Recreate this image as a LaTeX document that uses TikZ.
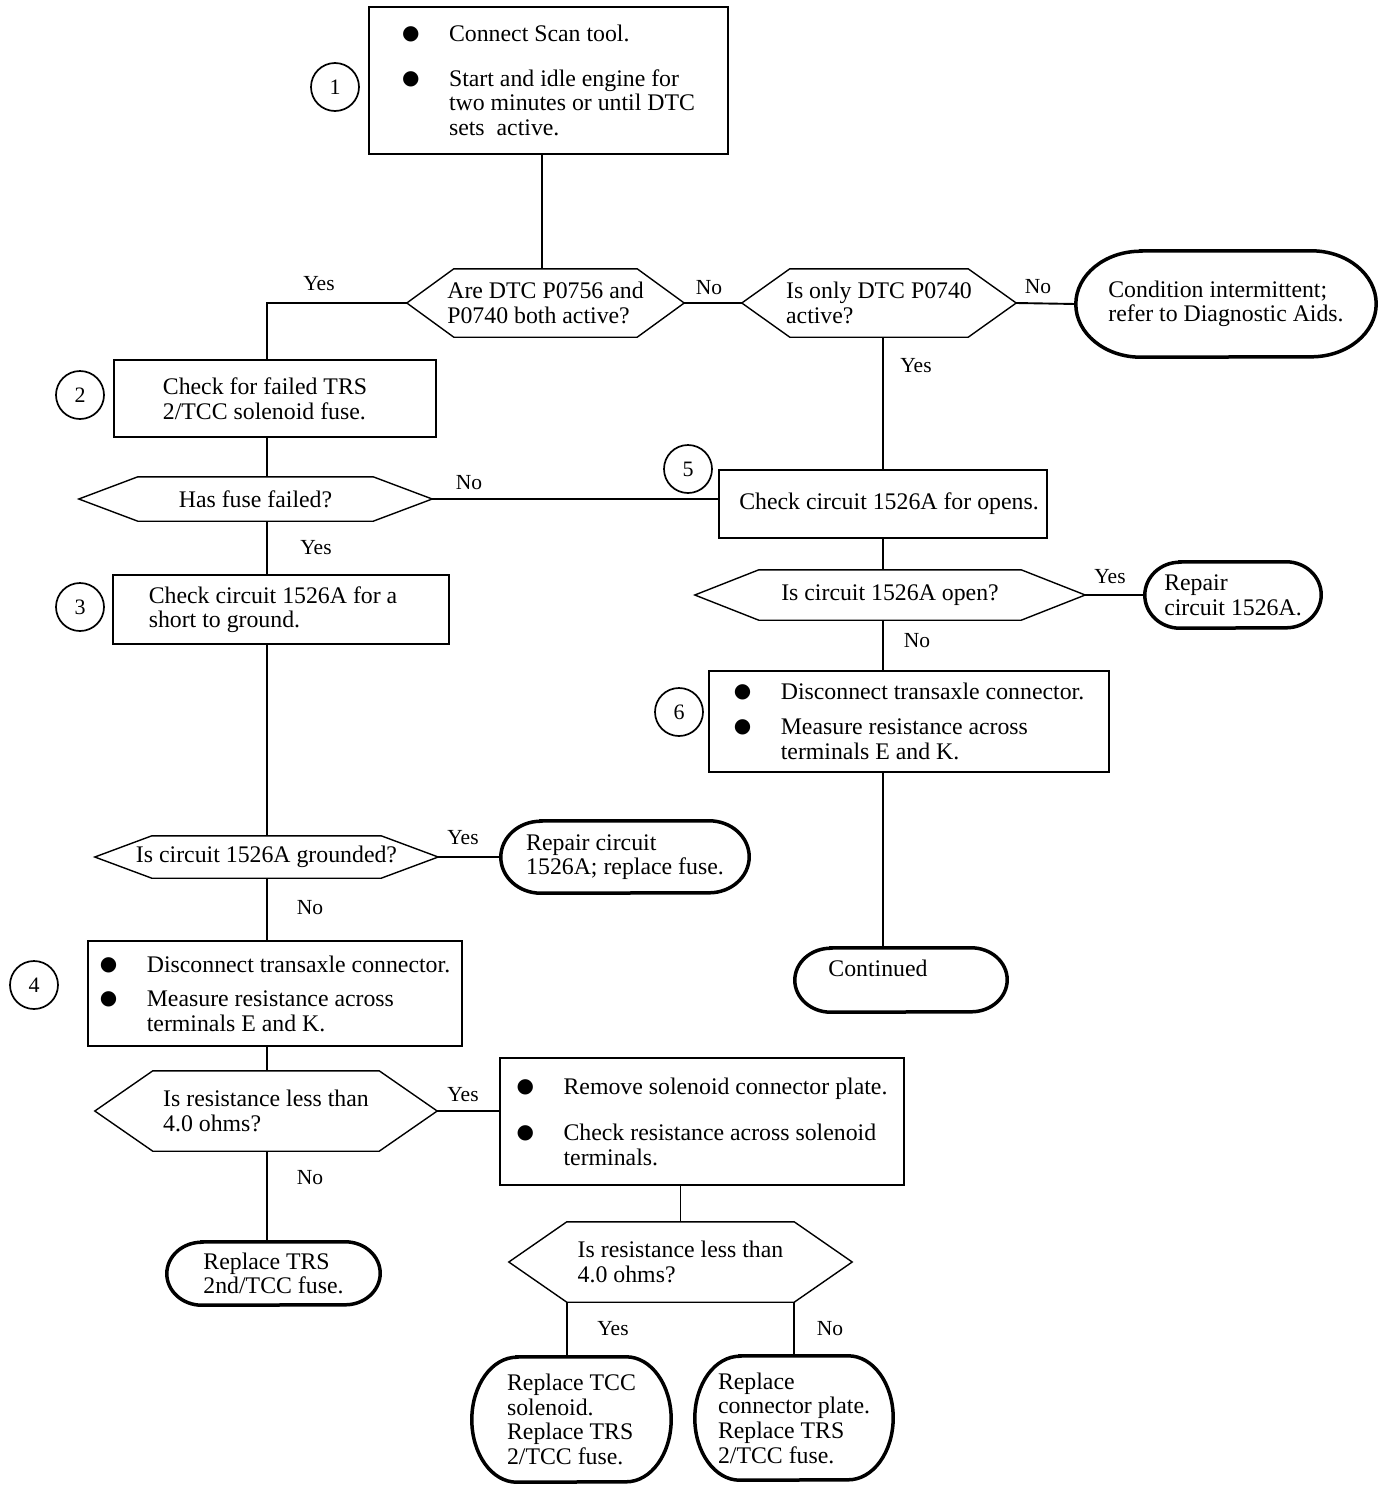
\documentclass[tikz,border=0pt]{standalone}
\usepackage{fontspec}
\setmainfont{Liberation Serif}
\newfontfamily\symf{DejaVu Sans}
\usetikzlibrary{calc}
\newcommand\bul{\raisebox{2pt}{\symf\fontsize{20}{20}\selectfont ●}}
\newcommand\bl{\makebox[47pt][l]{\bul}}
\newcommand\ind{\hspace*{47pt}}
\newcommand\hexout[2]{\draw[hexline] (#1.west) -- ([xshift=#2]#1.north west) -- ([xshift=-#2]#1.north east) -- (#1.east) -- ([xshift=-#2]#1.south east) -- ([xshift=#2]#1.south west) -- cycle;}
\newcommand\termout[3]{\draw[termline] ([xshift=#2]#1.north west) -- ([xshift=-#2]#1.north east) arc[start angle=90,end angle=-90,x radius=#2,y radius=#3] -- ([xshift=#2]#1.south west) arc[start angle=270,end angle=90,x radius=#2,y radius=#3] -- cycle;}
\begin{document}
\begin{tikzpicture}[x=1pt,y=-1pt,
  every node/.style={font=\fontsize{23.8}{24.6}\selectfont, inner sep=0pt},
  boxst/.style={draw, line width=1.8pt, align=left},
  hexst/.style={draw=none, align=left},
  termst/.style={draw=none, align=left},
  hexline/.style={line width=1.4pt, line join=miter},
  termline/.style={line width=3.5pt},
  conn/.style={line width=1.9pt},
  numc/.style={circle, draw, line width=1.7pt, minimum size=48pt, font=\fontsize{22}{22}\selectfont},
  lab/.style={font=\fontsize{21.5}{21.5}\selectfont}]
\useasboundingbox (0,0) rectangle (1392,1486);
\coordinate (colL) at (267,0);
\coordinate (colR) at (883,0);

% boxes
\node[boxst, minimum width=359pt, minimum height=147pt] (box1) at (548.5,80.5)
  {\bl Connect Scan tool.\\[20pt]\bl Start and idle engine for\\\ind two minutes or until DTC\\\ind sets\ \ active.\hspace*{8pt}};
\node[boxst, minimum width=322pt, minimum height=77pt] (box2) at (275,398.5)
  {Check for failed TRS\hspace*{20pt}\\2/TCC solenoid fuse.\hspace*{20pt}};
\node[boxst, minimum width=336pt, minimum height=69pt] (box3) at (281,609.5)
  {Check circuit 1526A for a\hspace*{16pt}\\short to ground.};
\node[boxst, minimum width=374pt, minimum height=105pt] (box4) at (275,993.5)
  {\bl Disconnect transaxle connector.\\[10pt]\bl Measure resistance across\\\ind terminals E and K.};
\node[boxst, minimum width=328pt, minimum height=68pt] (box5) at (883,504)
  {\hspace*{12pt}Check circuit 1526A for opens.};
\node[boxst, minimum width=400pt, minimum height=101pt] (box6) at (909,721.5)
  {\bl Disconnect transaxle connector.\\[10pt]\bl Measure resistance across\\\ind terminals E and K.};
\node[boxst, minimum width=404pt, minimum height=127pt] (box7) at (702,1121.5)
  {\bl Remove solenoid connector plate.\\[22pt]\bl Check resistance across solenoid\\\ind terminals.};

% decisions
\node[hexst, minimum width=277pt, minimum height=68pt] (d1) at (545.5,303) {Are DTC P0756 and\\P0740 both active?};
\node[hexst, minimum width=274pt, minimum height=68pt] (d2) at (879,303) {Is only DTC P0740\\active?};
\node[hexst, minimum width=353pt, minimum height=44pt] (d3) at (255.5,499) {Has fuse failed?};
\node[hexst, minimum width=343pt, minimum height=42pt] (d4) at (266.5,857) {Is circuit 1526A grounded?};
\node[hexst, minimum width=390pt, minimum height=50pt] (d5) at (890,595) {Is circuit 1526A open?};
\node[hexst, minimum width=342pt, minimum height=80pt] (d6) at (266,1111) {Is resistance less than\\4.0 ohms?};
\node[hexst, minimum width=343pt, minimum height=80pt] (d7) at (680.5,1262) {Is resistance less than\\4.0 ohms?};
\hexout{d1}{47pt}
\hexout{d2}{48pt}
\hexout{d3}{59pt}
\hexout{d4}{57pt}
\hexout{d5}{64pt}
\hexout{d6}{58pt}
\hexout{d7}{58pt}

% terminals
\node[termst, minimum width=300pt, minimum height=106pt] (t1) at (1226,304) {Condition intermittent;\\refer to Diagnostic Aids.};
\node[termst, minimum width=176pt, minimum height=66pt] (t2) at (1233,595) {Repair\\circuit 1526A.};
\node[termst, minimum width=212pt, minimum height=64pt,
  label={[name=t3txt, xshift=-23pt, yshift=12pt]center:Continued}] (t3) at (901,980) {};
\node[termst, minimum width=248pt, minimum height=72pt] (t4) at (625,857) {Repair circuit\\1526A; replace fuse.};
\node[termst, minimum width=213pt, minimum height=63pt] (t5) at (273.5,1273.5) {Replace TRS\\2nd/TCC fuse.};
\node[termst, minimum width=199pt, minimum height=125pt] (t6) at (571.5,1419.5) {Replace TCC\\solenoid.\\Replace TRS\\2/TCC fuse.};
\node[termst, minimum width=198pt, minimum height=124pt] (t7) at (794,1418) {Replace\\connector plate.\\Replace TRS\\2/TCC fuse.};
\termout{t1}{65pt}{53pt}
\termout{t2}{35pt}{33pt}
\termout{t3}{36pt}{32pt}
\termout{t4}{40pt}{36pt}
\termout{t5}{35pt}{31.5pt}
\termout{t6}{45pt}{62.5pt}
\termout{t7}{45pt}{62pt}

% step numbers
\node[numc] (c1) at (335,87) {1};
\node[numc] (c2) at (80,395) {2};
\node[numc] (c3) at (80,607) {3};
\node[numc] (c4) at (34,985) {4};
\node[numc] (c5) at (688,469) {5};
\node[numc] (c6) at (679,712) {6};

% connectors
\coordinate (d7bl) at ([xshift=58pt]d7.south west);
\coordinate (d7br) at ([xshift=-58pt]d7.south east);
\coordinate (top1) at (542,0);
\draw[conn] (top1 |- box1.south) -- (top1 |- d1.north);
\draw[conn] (d1.west) -| (colL |- box2.north);
\draw[conn] (d1.east) -- (d2.west);
\draw[conn] (d2.east) -- (t1.west);
\draw[conn] (colR |- d2.south) -- (colR |- box5.north);
\draw[conn] (colL |- box2.south) -- (colL |- d3.north);
\draw[conn] (d3.east) -- (d3.east -| box5.west);
\draw[conn] (colL |- d3.south) -- (colL |- box3.north);
\draw[conn] (colL |- box3.south) -- (colL |- d4.north);
\draw[conn] (colR |- box5.south) -- (colR |- d5.north);
\draw[conn] (d5.east) -- (t2.west);
\draw[conn] (colR |- d5.south) -- (colR |- box6.north);
\draw[conn] (colR |- box6.south) -- (colR |- t3.north);
\draw[conn] (d4.east) -- (t4.west);
\draw[conn] (colL |- d4.south) -- (colL |- box4.north);
\draw[conn] (colL |- box4.south) -- (colL |- d6.north);
\draw[conn] (d6.east) -- (d6.east -| box7.west);
\draw[conn] (colL |- d6.south) -- (colL |- t5.north);
\draw[conn] (d7.north |- box7.south) -- (d7.north);
\draw[conn] (d7bl) -- (d7bl |- t6.north);
\draw[conn] (d7br) -- (d7br |- t7.north);

% labels
\node[lab] (l1) at (319,284) {Yes};
\node[lab] (l2) at (709,288) {No};
\node[lab] (l3) at (1038,287) {No};
\node[lab] (l4) at (916,366) {Yes};
\node[lab] (l5) at (469,483) {No};
\node[lab] (l6) at (316,548) {Yes};
\node[lab] (l7) at (1110,577) {Yes};
\node[lab] (l8) at (917,641) {No};
\node[lab] (l9) at (463,838) {Yes};
\node[lab] (l10) at (310,908) {No};
\node[lab] (l11) at (463,1095) {Yes};
\node[lab] (l12) at (310,1178) {No};
\node[lab] (l13) at (613,1329) {Yes};
\node[lab] (l14) at (830,1329) {No};
\end{tikzpicture}
\end{document}
